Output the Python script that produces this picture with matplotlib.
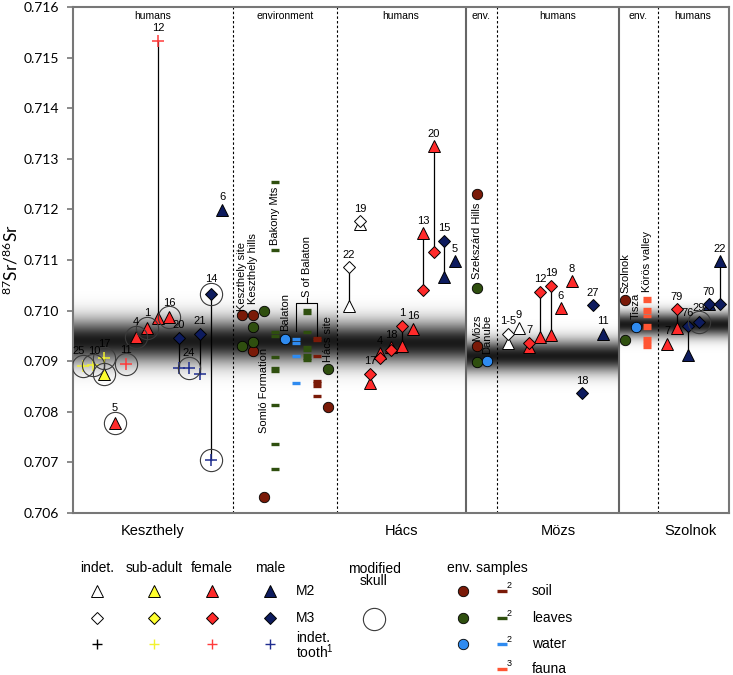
import numpy as np
import matplotlib
matplotlib.use('Agg')
import matplotlib.pyplot as plt

plt.rcParams['font.family'] = ['Liberation Sans', 'DejaVu Sans']

nan = np.nan

# ---- humans: Keszthely ----
kes_labels = ['25', '10', '17', '5', '11', '4', '1', '12', '16', '20', '24', '21', '14', '6']
kes_x = [83, 93, 104, 115, 126, 136, 147, 158, 169, 179, 189, 200, 211, 222]
kes_group = ['sub', 'sub', 'sub', 'fem', 'fem', 'fem', 'fem', 'fem', 'fem',
             'male', 'male', 'male', 'male', 'male']
kes_m2 = [nan, nan, 0.70875, 0.70778, nan, 0.70948, 0.70966, 0.70985, 0.70987,
          nan, nan, nan, nan, 0.71199]
kes_m3 = [nan, nan, nan, nan, nan, nan, nan, nan, nan,
          0.70946, nan, 0.70954, 0.71033, nan]
kes_tooth = [0.70891, 0.70892, 0.70906, nan, 0.70894, nan, nan, 0.71533, nan,
             0.70887, 0.70887, 0.70875, 0.70705, nan]
kes_skull = [1, 1, 1, 1, 1, 1, 1, 0, 1, 0, 1, 0, 1, 0]

# ---- humans: Hács ----
hac_labels = ['22', '19', '17', '4', '18', '1', '16', '13', '20', '15', '5']
hac_x = [349, 360, 370, 380, 391, 402, 413, 423, 434, 444, 455]
hac_group = ['ind', 'ind', 'fem', 'fem', 'fem', 'fem', 'fem', 'fem', 'fem', 'male', 'male']
hac_m2 = [0.71009, 0.71172, 0.70857, 0.70916, 0.70928, 0.70930, 0.70964,
          0.71153, 0.71325, 0.71066, 0.71098]
hac_m3 = [0.71086, 0.71177, 0.70875, 0.70906, 0.70922, 0.70970, nan,
          0.71041, 0.71116, 0.71138, nan]

# ---- humans: Mözs ----
moz_labels = ['1-5', '9', '7', '12', '19', '6', '8', '18', '27', '11']
moz_x = [508, 519, 529, 540, 551, 561, 572, 582, 593, 603]
moz_group = ['ind', 'ind', 'fem', 'fem', 'fem', 'fem', 'fem', 'male', 'male', 'male']
moz_m2 = [0.70936, 0.70966, 0.70928, 0.70948, 0.70952, 0.71005, 0.71058, nan, nan, 0.70954]
moz_m3 = [0.70954, nan, 0.70936, 0.71037, 0.71049, nan, nan, 0.70837, 0.71011, nan]

# ---- humans: Szolnok ----
szo_labels = ['7', '79', '76', '29', '70', '22']
szo_x = [667, 677, 688, 699, 709, 720]
szo_group = ['fem', 'fem', 'male', 'male', 'male', 'male']
szo_m2 = [0.70934, 0.70966, 0.70912, nan, 0.71013, 0.71098]
szo_m3 = [nan, 0.71003, 0.70970, 0.70977, 0.71013, 0.71013]
szo_skull = [0, 0, 0, 1, 0, 0]

# ---- environment samples ----
soil_x = [242, 253, 253, 264, 328, 477, 477, 625]
soil_y = [0.70991, 0.70991, 0.70920, 0.70632, 0.70810, 0.71230, 0.70930, 0.71021]
leaves_x = [264, 253, 242, 253, 328, 477, 477, 625]
leaves_y = [0.70999, 0.70968, 0.70930, 0.70938, 0.70885, 0.71045, 0.70898, 0.70942]
water_x = [285, 487, 636]
water_y = [0.70944, 0.70900, 0.70968]

leaves_bars_a = [0.71254, 0.71120, 0.70958, 0.70950, 0.70908, 0.70887, 0.70880,
                 0.70813, 0.70736, 0.70687]
water_bars = [0.70944, 0.70936, 0.70910, 0.70857]
leaves_bars_b = [0.71001, 0.70995, 0.70958, 0.70928, 0.70922, 0.70912, 0.70906, 0.70902]
soil_bars = [0.70946, 0.70942, 0.70910, 0.70861, 0.70856, 0.70851, 0.70831]
fauna_bars = [0.71025, 0.71019, 0.71003, 0.70997, 0.70990, 0.70972, 0.70966,
              0.70946, 0.70940, 0.70934, 0.70928]

# local baseline bands (site sections)
band_x0 = [73, 337, 466, 619]
band_x1 = [337, 466, 619, 729]
band_mean = [0.70939, 0.70935, 0.70909, 0.70972]
band_sd = [0.00030, 0.00029, 0.00022, 0.00017]

face = {'ind': 'white', 'sub': '#ffff2e', 'fem': '#ff2a2a', 'male': '#0d1b5e'}
plus_col = {'ind': 'black', 'sub': '#f2f230', 'fem': '#ff3b3b', 'male': '#1f2d8f'}
SOIL = '#7a1a08'
LEAF = '#2f4f0f'
WATER = '#2f8bf0'
FAUNA = '#ff5533'


def py(ypx):
    # pixel row -> Sr value (only used for annotation placement)
    return 0.716 - (ypx - 7) / 50600.0


fig = plt.figure(figsize=(7.33, 6.75), dpi=100)
ax = fig.add_axes([73 / 733, 1 - 513 / 675, (729 - 73) / 733, (513 - 7) / 675])
ax.set_xlim(73, 729)
ax.set_ylim(0.706, 0.716)

# grey bands
for x0, x1, m, sd in zip(band_x0, band_x1, band_mean, band_sd):
    lo, hi = m - 4 * sd, m + 4 * sd
    vv = np.linspace(hi, lo, 300)
    rgba = np.zeros((300, 1, 4))
    rgba[:, 0, 3] = 0.9 * np.exp(-0.5 * ((vv - m) / sd) ** 2)
    ax.imshow(rgba, extent=[x0, x1, lo, hi], aspect='auto', zorder=0,
              interpolation='bilinear')

for xd in [233, 337, 497, 658]:
    ax.axvline(xd, color='k', lw=0.8, ls=(0, (2.2, 2)), zorder=1)
for xs in [466, 619]:
    ax.axvline(xs, color='#666666', lw=1.5, zorder=1)

for s in ax.spines.values():
    s.set_color('#777777')
    s.set_linewidth(1.5)
ax.set_xticks([])
ax.set_yticks(np.arange(0.706, 0.7165, 0.001))
ax.set_yticklabels(['%.3f' % t for t in np.arange(0.706, 0.7165, 0.001)],
                   family='Lato', fontsize=10)
ax.tick_params(axis='y', direction='out', length=4, width=1.2, color='#777777', pad=6)

fig.text(11 / 733, 1 - 260 / 675, r'$\mathregular{^{87}}$Sr/$\mathregular{^{86}}$Sr',
         rotation=90, ha='center', va='center', family='Lato', fontsize=12.5)

# section headers and site names
for txt, xh in [('humans', 153), ('environment', 285), ('humans', 401), ('env.', 481),
                ('humans', 558), ('env.', 638), ('humans', 693)]:
    ax.text(xh, py(16), txt, ha='center', va='center', fontsize=7.5)
for txt, xh in [('Keszthely', 153), ('Hács', 401), ('Mözs', 558), ('Szolnok', 690)]:
    ax.text(xh, py(531), txt, ha='center', va='center', fontsize=10.5, clip_on=False)

label_dx = {('kes', '25'): -3, ('kes', '10'): 1}


def draw_site(key, labels, xs, groups, m2, m3, tooth=None, skull=None):
    n = len(labels)
    if tooth is None:
        tooth = [nan] * n
    if skull is None:
        skull = [0] * n
    for i in range(n):
        x = xs[i]
        g = groups[i]
        vals = [v for v in (m2[i], m3[i], tooth[i]) if not np.isnan(v)]
        if len(vals) > 1:
            ax.plot([x, x], [min(vals), max(vals)], color='k', lw=0.9, zorder=3)
        if not np.isnan(m2[i]):
            ax.plot(x, m2[i], marker='^', ms=9, mfc=face[g], mec='k', mew=0.7, zorder=4)
        if not np.isnan(m3[i]):
            ax.plot(x, m3[i], marker='D', ms=6, mfc=face[g], mec='k', mew=0.7, zorder=5)
        if not np.isnan(tooth[i]):
            ax.plot(x, tooth[i], marker='+', ms=8, mec=plus_col[g], mew=1.1, zorder=5)
        if skull[i]:
            for v in vals:
                ax.plot(x, v, marker='o', ms=16, mfc='none', mec='#3a3a3a', mew=0.8, zorder=6)
        top = max(vals)
        off = 10.5 if skull[i] else 9.0
        dx = label_dx.get((key, labels[i]), 0)
        ax.annotate(labels[i], (x, top), xytext=(dx, off), textcoords='offset points',
                    ha='center', va='center', fontsize=8, zorder=7)


draw_site('kes', kes_labels, kes_x, kes_group, kes_m2, kes_m3, kes_tooth, kes_skull)
draw_site('hac', hac_labels, hac_x, hac_group, hac_m2, hac_m3)
draw_site('moz', moz_labels, moz_x, moz_group, moz_m2, moz_m3)
draw_site('szo', szo_labels, szo_x, szo_group, szo_m2, szo_m3, skull=szo_skull)

# environment points and bars
ax.plot(soil_x, soil_y, 'o', ms=7.5, mfc=SOIL, mec='k', mew=0.6, ls='none', zorder=4)
ax.plot(leaves_x, leaves_y, 'o', ms=7.5, mfc=LEAF, mec='k', mew=0.6, ls='none', zorder=4)
ax.plot(water_x, water_y, 'o', ms=7.5, mfc=WATER, mec='k', mew=0.6, ls='none', zorder=4)
for xb, vals, col in [(275, leaves_bars_a, LEAF), (296, water_bars, WATER),
                      (307, leaves_bars_b, LEAF), (317, soil_bars, SOIL),
                      (647, fauna_bars, FAUNA)]:
    ax.plot([xb] * len(vals), vals, marker='_', ms=6, mew=2.4, color=col, ls='none', zorder=4)

# S of Balaton bracket
ax.plot([296, 296, 317, 317], [py(331), py(303), py(303), py(336)], color='k', lw=0.8, zorder=3)
ax.plot([307, 307], [py(303), py(298)], color='k', lw=0.8, zorder=3)

for txt, xl, yb in [('Keszthely site', 242, 311), ('Keszthely hills', 253, 304),
                    ('Bakony Mts', 275, 245), ('Somló Formation', 264, 433),
                    ('Balaton', 285, 331), ('S of Balaton', 307, 297),
                    ('Hács site', 328, 362), ('Szekszárd Hills', 477, 279),
                    ('Mözs', 477, 341), ('Danube', 487, 354), ('Szolnok', 625, 293),
                    ('Tisza', 636, 319), ('Körös valley', 647, 292)]:
    ax.text(xl, py(yb), txt, rotation=90, ha='center', va='bottom', fontsize=8, zorder=7)

# ---- legend (pixel coordinates) ----
lax = fig.add_axes([0, 0, 1, 1])
lax.set_xlim(0, 733)
lax.set_ylim(675, 0)
lax.set_axis_off()

cols = [('indet.', 97, 'ind'), ('sub-adult', 154, 'sub'), ('female', 212, 'fem'),
        ('male', 270, 'male')]
for txt, xc, g in cols:
    lax.text(xc, 568, txt, ha='center', va='center', fontsize=10)
    lax.plot(xc, 591, marker='^', ms=9, mfc=face[g], mec='k', mew=0.7)
    lax.plot(xc, 618, marker='D', ms=6, mfc=face[g], mec='k', mew=0.7)
    lax.plot(xc, 644, marker='+', ms=7, mec=plus_col[g], mew=1.0)
lax.text(296, 591, 'M2', ha='left', va='center', fontsize=10)
lax.text(296, 618, 'M3', ha='left', va='center', fontsize=10)
lax.text(296, 646, 'indet.\ntooth$\\mathregular{^1}$', ha='left', va='center',
         fontsize=10, linespacing=0.85)

lax.text(374, 575, 'modified\nskull', ha='center', va='center', fontsize=10, linespacing=0.9)
lax.plot(374, 619, marker='o', ms=16, mfc='none', mec='#3a3a3a', mew=0.8)

lax.text(487, 568, 'env. samples', ha='center', va='center', fontsize=10)
for yr, col, txt, sup, circ in [(591, SOIL, 'soil', '2', True), (618, LEAF, 'leaves', '2', True),
                                (644, WATER, 'water', '2', True), (669, FAUNA, 'fauna', '3', False)]:
    if circ:
        lax.plot(463, yr, 'o', ms=7.5, mfc=col, mec='k', mew=0.6)
    lax.plot(502, yr, marker='_', ms=7, mew=2.4, color=col)
    lax.text(507, yr - 5, sup, ha='left', va='center', fontsize=6.5)
    lax.text(532, yr, txt, ha='left', va='center', fontsize=10)

fig.savefig('out.png', dpi=100)
